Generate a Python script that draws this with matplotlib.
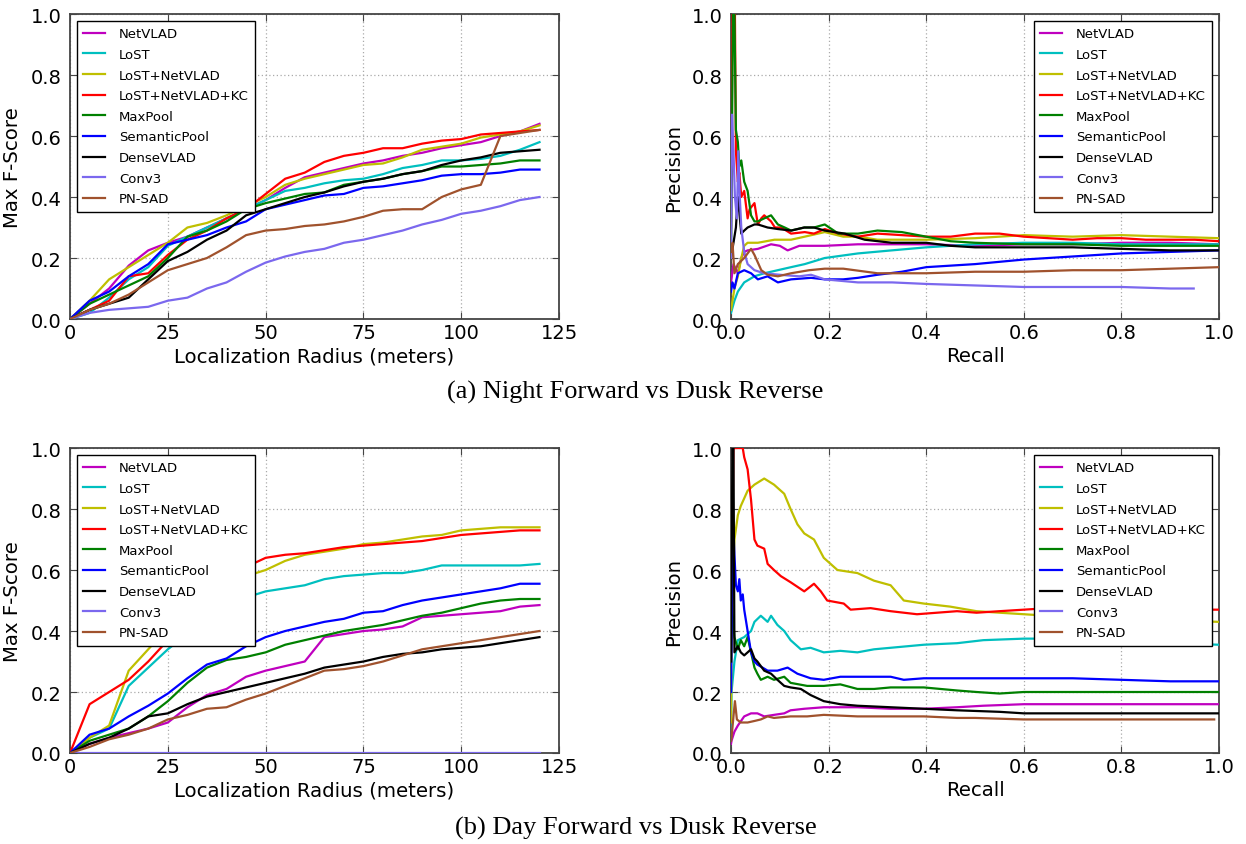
import matplotlib
matplotlib.use("Agg")
import matplotlib.pyplot as plt

# ---------------------------------------------------------------- methods
methods = ["NetVLAD", "LoST", "LoST+NetVLAD", "LoST+NetVLAD+KC", "MaxPool",
           "SemanticPool", "DenseVLAD", "Conv3", "PN-SAD"]
colors = [(0.75, 0, 0.75), (0, 0.75, 0.75), (0.75, 0.75, 0), (1, 0, 0),
          (0, 0.5, 0), (0, 0, 1), (0, 0, 0), "#7b68ee", "#a0522d"]

# localization radius (meters)
radius = [0, 5, 10, 15, 20, 25, 30, 35, 40, 45, 50, 55, 60, 65, 70, 75,
          80, 85, 90, 95, 100, 105, 110, 115, 120]

# ---------------------------------------------- (a) Night Fwd vs Dusk Rev
f_netvlad_a = [0, .05, .10, .175, .225, .25, .27, .30, .33, .36, .39, .43, .465,
               .48, .495, .51, .52, .535, .545, .56, .57, .58, .60, .615, .64]
f_lost_a = [0, .02, .07, .13, .17, .24, .27, .30, .33, .36, .39, .42, .43,
            .445, .455, .46, .475, .495, .505, .52, .52, .525, .535, .555, .58]
f_lostnv_a = [0, .06, .13, .17, .21, .25, .30, .315, .34, .37, .40, .44, .46,
              .475, .49, .505, .51, .53, .555, .565, .575, .595, .605, .615, .635]
f_kc_a = [0, .03, .06, .14, .15, .21, .26, .29, .33, .36, .41, .46, .48,
          .515, .535, .545, .56, .56, .575, .585, .59, .605, .61, .615, .62]
f_maxpool_a = [0, .05, .08, .11, .14, .20, .27, .29, .32, .36, .38, .395, .41,
               .415, .44, .45, .46, .475, .485, .50, .50, .505, .51, .52, .52]
f_sempool_a = [0, .06, .09, .14, .18, .245, .26, .275, .30, .32, .36, .375, .39,
               .405, .41, .43, .435, .445, .455, .47, .475, .475, .48, .49, .49]
f_dense_a = [0, .03, .05, .07, .13, .19, .22, .26, .29, .34, .36, .38, .40,
             .415, .435, .45, .46, .475, .485, .505, .52, .53, .545, .55, .555]
f_conv3_a = [0, .02, .03, .035, .04, .06, .07, .10, .12, .155, .185, .205, .22,
             .23, .25, .26, .275, .29, .31, .325, .345, .355, .37, .39, .40]
f_pnsad_a = [0, .03, .05, .08, .12, .16, .18, .20, .235, .275, .29, .295, .305,
             .31, .32, .335, .355, .36, .36, .40, .425, .44, .60, .61, .62]

r_netvlad_a = [0.0, 0.005, 0.014, 0.021, 0.027, 0.034, 0.055, 0.082, 0.10, 0.116,
               0.14, 0.192, 0.26, 0.40, 0.50, 0.60, 0.70, 0.80, 0.90, 1.0]
p_netvlad_a = [0.12, 0.18, 0.15, 0.20, 0.22, 0.225, 0.23, 0.245, 0.24, 0.225,
               0.24, 0.24, 0.245, 0.245, 0.24, 0.245, 0.245, 0.25, 0.25, 0.245]
r_lost_a = [0.0, 0.007, 0.014, 0.027, 0.048, 0.068, 0.082, 0.123, 0.151, 0.192,
            0.26, 0.329, 0.40, 0.50, 0.60, 0.70, 0.80, 0.90, 1.0]
p_lost_a = [0.02, 0.06, 0.09, 0.12, 0.14, 0.15, 0.155, 0.17, 0.18, 0.20,
            0.215, 0.225, 0.235, 0.245, 0.25, 0.25, 0.245, 0.245, 0.245]
r_lostnv_a = [0.0, 0.003, 0.007, 0.014, 0.021, 0.027, 0.034, 0.055, 0.089, 0.123,
              0.151, 0.192, 0.23, 0.26, 0.30, 0.40, 0.50, 0.60, 0.70, 0.80, 0.90, 1.0]
p_lostnv_a = [0.03, 0.06, 0.10, 0.14, 0.20, 0.24, 0.25, 0.25, 0.26, 0.26,
              0.27, 0.285, 0.27, 0.27, 0.26, 0.26, 0.265, 0.275, 0.27, 0.275, 0.27, 0.265]
r_kc_a = [0.0, 0.003, 0.008, 0.010, 0.014, 0.017, 0.021, 0.027, 0.034, 0.038,
          0.048, 0.055, 0.062, 0.068, 0.082, 0.090, 0.103, 0.123, 0.151, 0.17,
          0.192, 0.22, 0.26, 0.30, 0.35, 0.40, 0.45, 0.50, 0.55, 0.60, 0.65,
          0.70, 0.75, 0.80, 0.85, 0.90, 0.95, 1.0]
p_kc_a = [0.3, 1.0, 1.0, 0.55, 0.45, 0.48, 0.40, 0.42, 0.33, 0.36,
          0.38, 0.31, 0.33, 0.34, 0.32, 0.30, 0.30, 0.28, 0.285, 0.28,
          0.295, 0.28, 0.27, 0.28, 0.275, 0.27, 0.27, 0.28, 0.28, 0.27, 0.265,
          0.26, 0.265, 0.265, 0.26, 0.26, 0.26, 0.255]
r_maxpool_a = [0.0, 0.004, 0.007, 0.010, 0.014, 0.017, 0.021, 0.027, 0.034, 0.041,
               0.048, 0.055, 0.068, 0.082, 0.096, 0.11, 0.123, 0.15, 0.17, 0.192,
               0.22, 0.26, 0.30, 0.35, 0.40, 0.45, 0.50, 0.60, 0.70, 0.80, 0.90, 1.0]
p_maxpool_a = [0.2, 1.0, 1.0, 0.62, 0.58, 0.50, 0.52, 0.45, 0.42, 0.34,
               0.32, 0.32, 0.33, 0.34, 0.31, 0.30, 0.29, 0.30, 0.30, 0.31,
               0.28, 0.28, 0.29, 0.285, 0.27, 0.255, 0.25, 0.245, 0.245, 0.24, 0.24, 0.24]
r_sempool_a = [0.0, 0.003, 0.007, 0.014, 0.027, 0.041, 0.055, 0.075, 0.096, 0.123,
               0.164, 0.192, 0.23, 0.26, 0.30, 0.35, 0.40, 0.50, 0.60, 0.70, 0.80,
               0.90, 1.0]
p_sempool_a = [0.09, 0.12, 0.10, 0.15, 0.16, 0.15, 0.13, 0.14, 0.12, 0.13,
               0.135, 0.13, 0.13, 0.135, 0.145, 0.155, 0.17, 0.18, 0.195, 0.205, 0.215,
               0.22, 0.225]
r_dense_a = [0.0, 0.005, 0.010, 0.014, 0.017, 0.021, 0.027, 0.034, 0.048, 0.055,
             0.075, 0.096, 0.123, 0.15, 0.17, 0.192, 0.233, 0.274, 0.329, 0.40,
             0.45, 0.50, 0.60, 0.70, 0.80, 0.90, 1.0]
p_dense_a = [0.2, 0.25, 0.30, 0.40, 0.35, 0.28, 0.29, 0.30, 0.31, 0.31,
             0.30, 0.295, 0.29, 0.30, 0.30, 0.29, 0.28, 0.26, 0.25, 0.25,
             0.24, 0.235, 0.235, 0.235, 0.23, 0.225, 0.225]
r_conv3_a = [0.0, 0.002, 0.005, 0.008, 0.012, 0.015, 0.018, 0.021, 0.027, 0.034,
             0.048, 0.068, 0.10, 0.14, 0.164, 0.192, 0.26, 0.33, 0.40, 0.50, 0.60,
             0.70, 0.80, 0.90, 0.948]
p_conv3_a = [0.2, 0.67, 0.55, 0.40, 0.33, 0.55, 0.40, 0.30, 0.22, 0.18,
             0.16, 0.15, 0.145, 0.14, 0.145, 0.13, 0.12, 0.12, 0.115, 0.11, 0.105,
             0.105, 0.105, 0.10, 0.10]
r_pnsad_a = [0.0, 0.003, 0.007, 0.014, 0.027, 0.041, 0.048, 0.062, 0.075, 0.096,
             0.123, 0.16, 0.192, 0.23, 0.30, 0.40, 0.50, 0.60, 0.70, 0.80, 0.90, 1.0]
p_pnsad_a = [0.22, 0.25, 0.15, 0.18, 0.20, 0.23, 0.21, 0.16, 0.145, 0.14,
             0.15, 0.16, 0.165, 0.165, 0.15, 0.15, 0.155, 0.155, 0.16, 0.16, 0.165, 0.17]

# ------------------------------------------------ (b) Day Fwd vs Dusk Rev
f_netvlad_b = [0, .03, .05, .065, .08, .10, .15, .19, .21, .25, .27, .285, .30,
               .38, .39, .40, .405, .415, .445, .45, .455, .46, .465, .48, .485]
f_lost_b = [0, .05, .08, .22, .28, .34, .39, .44, .48, .51, .53, .54, .55,
            .57, .58, .585, .59, .59, .60, .615, .615, .615, .615, .615, .62]
f_lostnv_b = [0, .05, .09, .27, .34, .41, .47, .52, .56, .58, .60, .63, .65,
              .66, .67, .685, .69, .70, .71, .715, .73, .735, .74, .74, .74]
f_kc_b = [0, .16, .20, .24, .30, .37, .45, .52, .57, .61, .64, .65, .655,
          .665, .675, .68, .685, .69, .695, .705, .715, .72, .725, .73, .73]
f_maxpool_b = [0, .04, .06, .08, .12, .17, .23, .28, .305, .315, .33, .355, .37,
               .385, .40, .41, .42, .435, .45, .46, .475, .49, .50, .505, .505]
f_sempool_b = [0, .06, .08, .12, .155, .195, .245, .29, .31, .35, .38, .40, .415,
               .43, .44, .46, .465, .485, .50, .51, .52, .53, .54, .555, .555]
f_dense_b = [0, .03, .05, .08, .12, .13, .16, .185, .20, .215, .23, .245, .26,
             .28, .29, .30, .315, .325, .33, .34, .345, .35, .36, .37, .38]
f_conv3_b = [0.0, 0.0, 0.0, 0.0, 0.0, 0.0, 0.0, 0.0, 0.0, 0.0, 0.0, 0.0, 0.0,
             0.0, 0.0, 0.0, 0.0, 0.0, 0.0, 0.0, 0.0, 0.0, 0.0, 0.0, 0.0]
f_pnsad_b = [0, .02, .045, .06, .08, .11, .125, .145, .15, .175, .195, .22, .245,
             .27, .275, .285, .30, .32, .34, .35, .36, .37, .38, .39, .40]

r_netvlad_b = [0.0, 0.001, 0.007, 0.014, 0.027, 0.041, 0.054, 0.068, 0.088, 0.109,
               0.122, 0.15, 0.19, 0.259, 0.327, 0.395, 0.463, 0.517, 0.60, 0.70,
               0.80, 0.90, 1.0]
p_netvlad_b = [0.03, 0.04, 0.07, 0.09, 0.12, 0.13, 0.13, 0.12, 0.125, 0.13,
               0.14, 0.145, 0.15, 0.15, 0.145, 0.145, 0.15, 0.155, 0.16, 0.16,
               0.16, 0.16, 0.16]
r_lost_b = [0.0, 0.001, 0.007, 0.014, 0.027, 0.041, 0.048, 0.061, 0.075, 0.082,
            0.095, 0.109, 0.122, 0.143, 0.163, 0.19, 0.224, 0.259, 0.293, 0.327,
            0.395, 0.463, 0.517, 0.60, 0.65, 0.70, 0.80, 0.90, 1.0]
p_lost_b = [0.05, 0.20, 0.30, 0.37, 0.38, 0.40, 0.43, 0.45, 0.43, 0.45,
            0.42, 0.40, 0.37, 0.34, 0.345, 0.33, 0.335, 0.33, 0.34, 0.345,
            0.355, 0.36, 0.37, 0.375, 0.375, 0.37, 0.365, 0.36, 0.355]
r_lostnv_b = [0.0, 0.001, 0.003, 0.007, 0.014, 0.020, 0.034, 0.048, 0.068, 0.088,
              0.109, 0.122, 0.136, 0.15, 0.17, 0.19, 0.218, 0.259, 0.293, 0.327,
              0.354, 0.395, 0.449, 0.503, 0.55, 0.60, 0.65, 0.70, 0.80, 0.90, 1.0]
p_lostnv_b = [0.10, 0.35, 0.50, 0.70, 0.78, 0.81, 0.86, 0.88, 0.90, 0.88,
              0.85, 0.80, 0.75, 0.72, 0.70, 0.64, 0.60, 0.59, 0.565, 0.55,
              0.50, 0.49, 0.48, 0.465, 0.46, 0.455, 0.45, 0.445, 0.44, 0.435, 0.43]
r_kc_b = [0.0, 0.002, 0.005, 0.024, 0.027, 0.034, 0.041, 0.048, 0.054, 0.068,
          0.075, 0.088, 0.102, 0.122, 0.15, 0.17, 0.184, 0.197, 0.231, 0.245,
          0.286, 0.327, 0.381, 0.422, 0.463, 0.503, 0.55, 0.60, 0.65, 0.70,
          0.80, 0.90, 1.0]
p_kc_b = [0.30, 0.60, 1.0, 1.0, 0.97, 0.93, 0.83, 0.70, 0.68, 0.67,
          0.62, 0.60, 0.58, 0.56, 0.53, 0.555, 0.53, 0.50, 0.49, 0.47,
          0.475, 0.465, 0.455, 0.46, 0.465, 0.46, 0.465, 0.47, 0.475, 0.475,
          0.475, 0.47, 0.47]
r_maxpool_b = [0.0, 0.001, 0.007, 0.014, 0.020, 0.027, 0.034, 0.041, 0.048, 0.054,
               0.061, 0.075, 0.088, 0.109, 0.122, 0.156, 0.19, 0.224, 0.259, 0.293,
               0.327, 0.395, 0.463, 0.503, 0.55, 0.60, 0.70, 0.80, 0.90, 1.0]
p_maxpool_b = [0.30, 0.50, 0.38, 0.34, 0.37, 0.35, 0.38, 0.33, 0.28, 0.26,
               0.24, 0.25, 0.24, 0.25, 0.23, 0.22, 0.22, 0.225, 0.21, 0.21,
               0.215, 0.215, 0.205, 0.20, 0.195, 0.20, 0.20, 0.20, 0.20, 0.20]
r_sempool_b = [0.0, 0.002, 0.0034, 0.007, 0.010, 0.014, 0.017, 0.020, 0.024, 0.027,
               0.034, 0.041, 0.048, 0.054, 0.075, 0.095, 0.116, 0.136, 0.163, 0.19,
               0.224, 0.259, 0.327, 0.354, 0.395, 0.463, 0.55, 0.60, 0.70, 0.80,
               0.90, 1.0]
p_sempool_b = [0.20, 0.50, 0.80, 0.65, 0.55, 0.53, 0.57, 0.50, 0.52, 0.47,
               0.40, 0.33, 0.30, 0.29, 0.27, 0.27, 0.28, 0.26, 0.245, 0.24,
               0.25, 0.25, 0.25, 0.24, 0.245, 0.245, 0.245, 0.245, 0.245, 0.24,
               0.235, 0.235]
r_dense_b = [0.0, 0.001, 0.003, 0.005, 0.007, 0.014, 0.020, 0.027, 0.034, 0.041,
             0.048, 0.054, 0.068, 0.082, 0.095, 0.109, 0.122, 0.143, 0.163, 0.19,
             0.224, 0.259, 0.327, 0.395, 0.463, 0.55, 0.60, 0.70, 0.80, 0.90, 1.0]
p_dense_b = [0.30, 0.60, 1.0, 1.0, 0.33, 0.35, 0.33, 0.32, 0.33, 0.34,
             0.31, 0.30, 0.27, 0.26, 0.24, 0.22, 0.215, 0.21, 0.19, 0.17,
             0.16, 0.155, 0.15, 0.145, 0.14, 0.135, 0.13, 0.13, 0.13, 0.13, 0.13]
r_conv3_b = []
p_conv3_b = []
r_pnsad_b = [0.0, 0.001, 0.005, 0.008, 0.012, 0.020, 0.034, 0.048, 0.061, 0.075,
             0.088, 0.122, 0.156, 0.19, 0.259, 0.327, 0.395, 0.463, 0.50, 0.60,
             0.70, 0.80, 0.90, 0.99]
p_pnsad_b = [0.04, 0.05, 0.12, 0.17, 0.11, 0.10, 0.10, 0.105, 0.11, 0.12,
             0.115, 0.12, 0.12, 0.125, 0.12, 0.12, 0.12, 0.115, 0.115, 0.11,
             0.11, 0.11, 0.11, 0.11]

fscore_a = [f_netvlad_a, f_lost_a, f_lostnv_a, f_kc_a, f_maxpool_a,
            f_sempool_a, f_dense_a, f_conv3_a, f_pnsad_a]
fscore_b = [f_netvlad_b, f_lost_b, f_lostnv_b, f_kc_b, f_maxpool_b,
            f_sempool_b, f_dense_b, f_conv3_b, f_pnsad_b]
pr_a = [(r_netvlad_a, p_netvlad_a), (r_lost_a, p_lost_a), (r_lostnv_a, p_lostnv_a),
        (r_kc_a, p_kc_a), (r_maxpool_a, p_maxpool_a), (r_sempool_a, p_sempool_a),
        (r_dense_a, p_dense_a), (r_conv3_a, p_conv3_a), (r_pnsad_a, p_pnsad_a)]
pr_b = [(r_netvlad_b, p_netvlad_b), (r_lost_b, p_lost_b), (r_lostnv_b, p_lostnv_b),
        (r_kc_b, p_kc_b), (r_maxpool_b, p_maxpool_b), (r_sempool_b, p_sempool_b),
        (r_dense_b, p_dense_b), (r_conv3_b, p_conv3_b), (r_pnsad_b, p_pnsad_b)]

captions = ["(a) Night Forward vs Dusk Reverse", "(b) Day Forward vs Dusk Reverse"]

# ---------------------------------------------------------------- drawing
plt.rcParams["font.family"] = ["DejaVu Sans"]
fig = plt.figure(figsize=(12.46, 8.45), dpi=100)
fig.patch.set_facecolor("white")

LW = 1.6
TICK_FS = 14
LABEL_FS = 14.2


def style_axes(ax):
    for sp in ax.spines.values():
        sp.set_color("#444444")
        sp.set_linewidth(1.3)
    ax.grid(True, linestyle=(0, (1, 2)), color="#aaaaaa", linewidth=0.9)
    ax.set_axisbelow(True)
    ax.tick_params(direction="in", top=True, right=True, length=5,
                   labelsize=TICK_FS, color="#444444")
    ax.tick_params(axis="x", pad=3)
    ax.tick_params(axis="y", pad=6)


def add_legend(ax, loc):
    leg = ax.legend(loc=loc, fontsize=9.5, labelspacing=0.58, borderpad=0.5,
                    handlelength=1.65, handletextpad=1.05, fancybox=False,
                    framealpha=1.0, edgecolor="black", borderaxespad=0.5)
    leg.get_frame().set_linewidth(1.0)


rows = [(fscore_a, pr_a, 0.6213), (fscore_b, pr_b, 0.1077)]
for fsc, pr, bottom in rows:
    ax_f = fig.add_axes([0.0562, bottom, 0.3925, 0.3609])
    for name, col, vals in zip(methods, colors, fsc):
        ax_f.plot(radius, vals, color=col, lw=LW, label=name, zorder=3)
    ax_f.set_xlim(0, 125)
    ax_f.set_ylim(0, 1.0)
    ax_f.set_xticks([0, 25, 50, 75, 100, 125])
    ax_f.set_yticks([0.0, 0.2, 0.4, 0.6, 0.8, 1.0])
    ax_f.set_xlabel("Localization Radius (meters)", fontsize=LABEL_FS, labelpad=3)
    ax_f.set_ylabel("Max F-Score", fontsize=LABEL_FS, labelpad=6)
    style_axes(ax_f)
    add_legend(ax_f, "upper left")

    ax_p = fig.add_axes([0.5867, bottom, 0.3917, 0.3609])
    for name, col, (rr, pp) in zip(methods, colors, pr):
        ax_p.plot(rr, pp, color=col, lw=LW, label=name, zorder=3)
    ax_p.set_xlim(0, 1.0)
    ax_p.set_ylim(0, 1.0)
    ax_p.set_xticks([0.0, 0.2, 0.4, 0.6, 0.8, 1.0])
    ax_p.set_yticks([0.0, 0.2, 0.4, 0.6, 0.8, 1.0])
    ax_p.set_xlabel("Recall", fontsize=LABEL_FS, labelpad=3)
    ax_p.set_ylabel("Precision", fontsize=LABEL_FS, labelpad=6)
    style_axes(ax_p)
    add_legend(ax_p, "upper right")

fig.text(0.51, 0.535, captions[0], ha="center", va="center",
         family="Liberation Serif", fontsize=19)
fig.text(0.51, 0.020, captions[1], ha="center", va="center",
         family="Liberation Serif", fontsize=19)

fig.savefig("out.png", dpi=100, facecolor="white")
